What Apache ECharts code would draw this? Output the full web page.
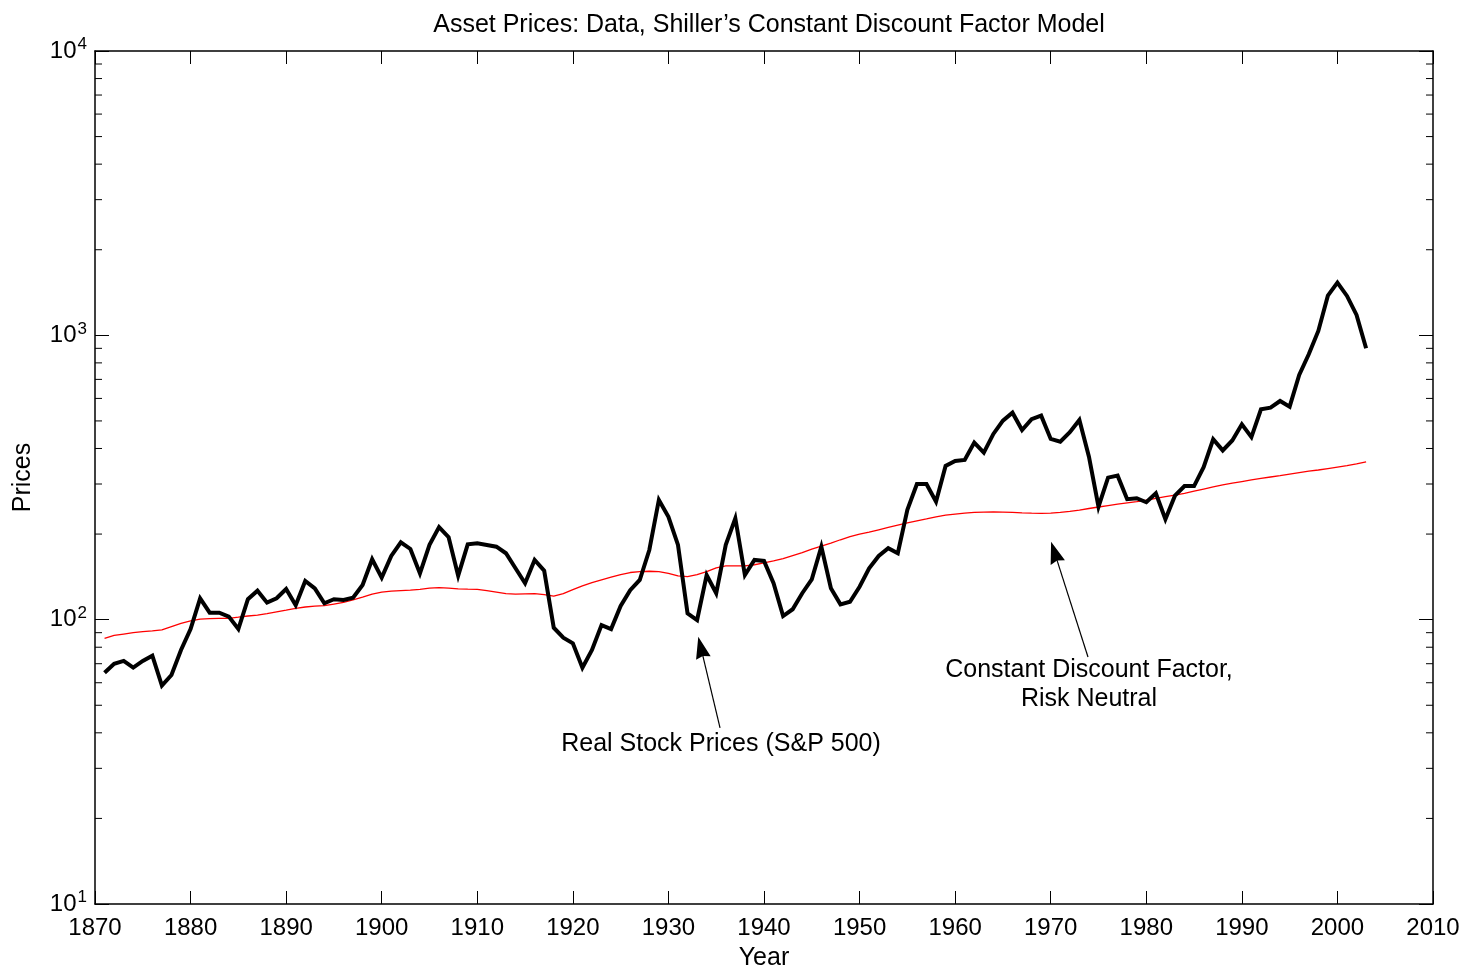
<!DOCTYPE html>
<html>
<head>
<meta charset="utf-8">
<script src="https://cdn.jsdelivr.net/npm/echarts@6/dist/echarts.min.js"></script>
<style>
  html, body { margin: 0; padding: 0; background: #fff; }
  #chart { width: 1467px; height: 971px; }
</style>
</head>
<body>
<div id="chart"></div>
<script>
// yearly values, 1871 - 2003
const firstYear = 1871;
const realPrices = [
  65.1, 70.0, 71.6, 67.8, 71.6, 74.7, 58.6, 63.9, 78.2, 92.7,
  118.9, 105.8, 105.8, 102.5, 92.7, 118, 126.5, 114.8, 118.9, 128.2,
  112.4, 136.8, 128.9, 114.2, 118, 117.3, 119.5, 132.4, 163.1, 140.5,
  167.5, 187.2, 177.3, 145.5, 183.2, 211.5, 195, 142.8, 184, 185.7,
  183, 180.6, 171.2, 151.6, 134.3, 162.2, 148.7, 93.7, 86.4, 82.6,
  67.8, 78.2, 95.7, 92.7, 111.7, 127, 137.9, 175.8, 263.6, 230,
  183.2, 105.3, 99.7, 143.6, 123.9, 183.2, 227.3, 143.6, 162.2, 160.9,
  134.3, 103, 108.8, 123.9, 138.7, 180.6, 128.9, 113.2, 115.6, 130.6,
  151.6, 167.5, 178.3, 171.2, 243.2, 300, 300, 260, 347.2, 361.4,
  364.6, 419.5, 386.8, 450, 501, 534.6, 464.5, 506.9, 521.9, 432.2,
  422.8, 456.2, 504, 374.4, 249.7, 315.9, 321, 265.2, 267.3, 258.8,
  278.3, 225.4, 272.9, 295.1, 295.1, 343.6, 431.1, 393.8, 427, 486.4,
  438.5, 549.6, 556.8, 587.6, 561.3, 725.6, 858, 1036, 1379, 1532,
  1376, 1180, 901
];
const modelPrices = [
  86, 88, 89, 90, 90.7, 91.3, 92, 94.5, 97, 99,
  100.5, 100.8, 101, 101.1, 102, 103, 103.8, 105, 106.5, 108,
  109.6, 110.8, 111.5, 112, 113.5, 115, 117.5, 120, 123, 125,
  126, 126.5, 127, 127.8, 129, 129.6, 129, 128.3, 128, 127.8,
  126.5, 125, 123.5, 123, 123.3, 123.5, 122.5, 121.1, 123.5, 127.5,
  131.5, 135, 138, 141, 144, 146.5, 147.5, 148, 147.5, 145.5,
  142.5, 141.6, 144, 147.5, 152, 154.5, 154.5, 154.5, 156, 158.5,
  161, 164, 168, 172, 177, 181.5, 186, 191, 196, 200,
  203, 207, 211, 215, 219, 222.5, 226, 230, 233, 235,
  237, 238.5, 239, 239.2, 239, 238.5, 237.5, 237, 236.6, 237,
  238.5, 240.5, 243, 246, 249, 252, 255, 257.5, 260, 263,
  267, 271, 274, 278, 283, 288, 293, 298, 302, 306,
  310, 314, 317.5, 321, 325, 329, 333, 336, 340, 344,
  348, 353, 359
];
// log minor tick positions
const minorTicks = [20, 30, 40, 50, 60, 70, 80, 90,
  200, 300, 400, 500, 600, 700, 800, 900,
  2000, 3000, 4000, 5000, 6000, 7000, 8000, 9000];

const FONT = 'Liberation Sans, Arial, Helvetica, sans-serif';
const FS = 24;   // tick labels
const TFS = 25;  // title, names, annotations

let chart = echarts.init(document.getElementById('chart'));

function pairs(vals) {
  return vals.map((v, i) => [firstYear + i, v]);
}

function yLabel(v) {
  return '{b|10}{e|' + Math.round(Math.log10(v)) + '}';
}

let yRich = {
  b: { fontSize: FS, fontFamily: FONT, color: '#000', lineHeight: 30 },
  e: { fontSize: 17, fontFamily: FONT, color: '#000', lineHeight: 10, verticalAlign: 'top', padding: [0, 0, 0, 1] }
};

// arrow head: triangle with a shallow notch
const arrowHead = 'path://M0 0L1 2L0 1.8L-1 2Z';

let option = {
  backgroundColor: '#fff',
  animation: false,
  title: {
    text: 'Asset Prices: Data, Shiller\u2019s Constant Discount Factor Model',
    left: 764,
    textAlign: 'center',
    top: 8,
    textStyle: { fontFamily: FONT, fontSize: TFS, fontWeight: 'normal', color: '#000' }
  },
  grid: { left: 95, right: 34, top: 51, bottom: 67, containLabel: false, outerBoundsMode: 'none' },
  xAxis: [{
    type: 'value', min: 1870, max: 2010, interval: 10,
    name: 'Year', nameLocation: 'middle', nameGap: 42,
    nameTextStyle: { fontFamily: FONT, fontSize: TFS, color: '#000' },
    axisLine: { lineStyle: { color: '#000', width: 1.5 } },
    axisTick: { inside: true, length: 13, lineStyle: { color: '#000', width: 1 } },
    axisLabel: { fontFamily: FONT, fontSize: FS, color: '#000', margin: 12, formatter: v => String(v) },
    splitLine: { show: false }
  }, {
    type: 'value', min: 1870, max: 2010, interval: 10, position: 'top',
    axisLine: { lineStyle: { color: '#000', width: 1.5 } },
    axisTick: { inside: true, length: 13, lineStyle: { color: '#000', width: 1 } },
    axisLabel: { show: false },
    splitLine: { show: false }
  }],
  yAxis: [{
    type: 'log', logBase: 10, min: 10, max: 10000,
    name: 'Prices', nameLocation: 'middle', nameGap: 59, nameRotate: 90,
    nameTextStyle: { fontFamily: FONT, fontSize: TFS, color: '#000' },
    axisLine: { show: true, lineStyle: { color: '#000', width: 1.5 } },
    axisTick: { show: true, inside: true, length: 14, lineStyle: { color: '#000', width: 1 } },
    axisLabel: { margin: 8, formatter: yLabel, rich: yRich },
    splitLine: { show: false }
  }, {
    type: 'log', logBase: 10, min: 10, max: 10000, position: 'right',
    axisLine: { show: true, lineStyle: { color: '#000', width: 1.5 } },
    axisTick: { show: true, inside: true, length: 14, lineStyle: { color: '#000', width: 1 } },
    axisLabel: { show: false },
    splitLine: { show: false }
  }],
  series: [{
    name: 'Constant Discount Factor, Risk Neutral',
    type: 'line',
    data: pairs(modelPrices),
    showSymbol: false,
    lineStyle: { color: '#ff0000', width: 1.3 },
    z: 3
  }, {
    name: 'Real Stock Prices (S&P 500)',
    type: 'line',
    data: pairs(realPrices),
    showSymbol: false,
    lineStyle: { color: '#000', width: 4, join: 'miter' },
    z: 4,
    markLine: {
      silent: true,
      symbol: ['none', arrowHead],
      symbolSize: [15, 22],
      label: { show: false },
      lineStyle: { color: '#000', width: 1.2, type: 'solid' },
      // end points sit at the middle of the head
      data: [
        [{ coord: [1935.4, 41.6] }, { coord: [1933.39, 79.9] }],
        [{ coord: [1973.9, 73.9] }, { coord: [1970.39, 172.8] }]
      ]
    }
  }, {
    // minor ticks of the log axes, left and right side
    type: 'custom',
    silent: true,
    clip: false,
    data: minorTicks.map(v => [v]),
    renderItem: function(params, api) {
      let l = api.coord([1870, api.value(0)]);
      let r = api.coord([2010, api.value(0)]);
      let st = { stroke: '#000', lineWidth: 1 };
      return {
        type: 'group',
        children: [
          { type: 'line', shape: { x1: l[0], y1: l[1], x2: l[0] + 7, y2: l[1] }, style: st },
          { type: 'line', shape: { x1: r[0], y1: r[1], x2: r[0] - 7, y2: r[1] }, style: st }
        ]
      };
    },
    encode: { y: 0 }
  }],
  graphic: [
    { type: 'text', x: 721, y: 744, style: { text: 'Real Stock Prices (S&P 500)', font: TFS + 'px ' + FONT, fill: '#000', align: 'center', verticalAlign: 'middle' } },
    { type: 'text', x: 1089, y: 685, style: { text: 'Constant Discount Factor,\nRisk Neutral', font: TFS + 'px ' + FONT, lineHeight: 29, fill: '#000', align: 'center', verticalAlign: 'middle' } }
  ]
};

option && chart.setOption(option);
</script>
</body>
</html>
